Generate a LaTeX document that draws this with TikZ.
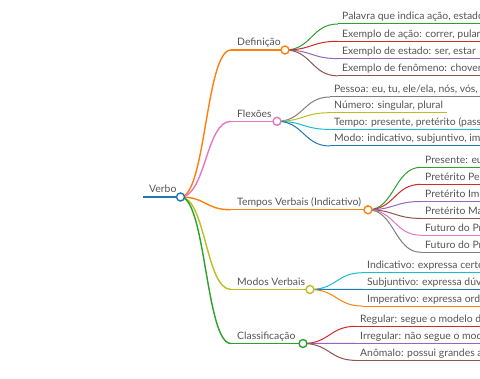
\documentclass[tikz,border=0pt]{standalone}
\usepackage{fontspec}
\setmainfont{Lato}[FakeStretch=1.02]
\usetikzlibrary{calc}
\definecolor{cBlue}{HTML}{1F77B4}
\definecolor{cOrange}{HTML}{FF7F0E}
\definecolor{cGreen}{HTML}{2CA02C}
\definecolor{cRed}{HTML}{D62728}
\definecolor{cPurple}{HTML}{9467BD}
\definecolor{cBrown}{HTML}{8C564B}
\definecolor{cPink}{HTML}{E377C2}
\definecolor{cGray}{HTML}{7F7F7F}
\definecolor{cOlive}{HTML}{BCBD22}
\definecolor{cCyan}{HTML}{17BECF}
\definecolor{txt}{HTML}{555555}
\newcommand\mmlink[4]{% width, color, from, to
  \path ($(#3)!0.5!(#4)$) coordinate (mmmid);
  \draw[line width=#1, #2] (#3) .. controls (mmmid |- #3) and (mmmid |- #4) .. (#4);}
\begin{document}
\begin{tikzpicture}[x=1pt,y=-1pt,
  lbl/.style={anchor=base west, inner sep=0pt, text=txt, font=\fontsize{10.2}{12}\selectfont},
  circ/.style={circle, draw, fill=white, line width=1.4pt, minimum size=8pt, inner sep=0pt},
  leafline/.style={line width=1pt},
  midline/.style={line width=1.4pt}]
\useasboundingbox (0,0) rectangle (480,379);
\clip (0,0) rectangle (480,379);
\fill[white] (0,0) rectangle (480,379);

% ---------- coordinates ----------
\coordinate (rootS) at (143,197);
\coordinate (rootC) at (180.5,197);
% level 1
\coordinate (defS) at (231,50);   \coordinate (defC) at (285,50);
\coordinate (flxS) at (231,121.3); \coordinate (flxC) at (277,121.3);
\coordinate (tmpS) at (231,209.8); \coordinate (tmpC) at (368,209.8);
\coordinate (modS) at (231,289.5); \coordinate (modC) at (310,289.5);
\coordinate (claS) at (231,343.5); \coordinate (claC) at (303,343.5);
% leaves of Definicao
\coordinate (d1) at (338,24);   \coordinate (d2) at (338,41.3);
\coordinate (d3) at (338,58.6); \coordinate (d4) at (338,75.9);
% leaves of Flexoes
\coordinate (f1) at (330,97);    \coordinate (f2) at (330,112.7);
\coordinate (f3) at (330,129.4); \coordinate (f4) at (330,146);
% leaves of Tempos
\coordinate (t1) at (421,167.3); \coordinate (t2) at (421,184.3);
\coordinate (t3) at (421,201.5); \coordinate (t4) at (421,218.4);
\coordinate (t5) at (421,235.2); \coordinate (t6) at (421,252.3);
% leaves of Modos
\coordinate (m1) at (363,272.7); \coordinate (m2) at (363,289.4);
\coordinate (m3) at (363,306.1);
% leaves of Classificacao
\coordinate (c1) at (356,326.3); \coordinate (c2) at (356,343.4);
\coordinate (c3) at (356,360.4);

% ---------- root ----------
\draw[line width=1.8pt, cBlue] (rootS) -- (rootC);
\node[lbl] (rootT) at ($(rootS)+(6,-4)$) {Verbo};

% ---------- level 1 links ----------
\mmlink{1.4pt}{cOrange}{rootC}{defS}
\mmlink{1.4pt}{cPink}{rootC}{flxS}
\mmlink{1.4pt}{cOrange}{rootC}{tmpS}
\mmlink{1.4pt}{cOlive}{rootC}{modS}
\mmlink{1.4pt}{cGreen}{rootC}{claS}
\draw[midline, cOrange] (defS) -- (defC);
\draw[midline, cPink] (flxS) -- (flxC);
\draw[midline, cOrange] (tmpS) -- (tmpC);
\draw[midline, cOlive] (modS) -- (modC);
\draw[midline, cGreen] (claS) -- (claC);
\node[lbl] (defT) at ($(defS)+(6,-4)$) {Definição};
\node[lbl] (flxT) at ($(flxS)+(6,-4)$) {Flexões};
\node[lbl] (tmpT) at ($(tmpS)+(6,-4)$) {Tempos Verbais (Indicativo)};
\node[lbl] (modT) at ($(modS)+(6,-4)$) {Modos Verbais};
\node[lbl] (claT) at ($(claS)+(6,-4)$) {Classificação};

% ---------- leaf links ----------
\mmlink{1pt}{cGreen}{defC}{d1}
\mmlink{1pt}{cRed}{defC}{d2}
\mmlink{1pt}{cPurple}{defC}{d3}
\mmlink{1pt}{cBrown}{defC}{d4}
\mmlink{1pt}{cGray}{flxC}{f1}
\mmlink{1pt}{cOlive}{flxC}{f2}
\mmlink{1pt}{cCyan}{flxC}{f3}
\mmlink{1pt}{cBlue}{flxC}{f4}
\mmlink{1pt}{cGreen}{tmpC}{t1}
\mmlink{1pt}{cRed}{tmpC}{t2}
\mmlink{1pt}{cPurple}{tmpC}{t3}
\mmlink{1pt}{cBrown}{tmpC}{t4}
\mmlink{1pt}{cPink}{tmpC}{t5}
\mmlink{1pt}{cGray}{tmpC}{t6}
\mmlink{1pt}{cCyan}{modC}{m1}
\mmlink{1pt}{cBlue}{modC}{m2}
\mmlink{1pt}{cOrange}{modC}{m3}
\mmlink{1pt}{cRed}{claC}{c1}
\mmlink{1pt}{cPurple}{claC}{c2}
\mmlink{1pt}{cBrown}{claC}{c3}

% ---------- leaf underlines ----------
\draw[leafline, cGreen] (d1) -- ++(150,0);
\draw[leafline, cRed] (d2) -- ++(150,0);
\draw[leafline, cPurple] (d3) -- ++(150,0);
\draw[leafline, cBrown] (d4) -- ++(150,0);
\draw[leafline, cGray] (f1) -- ++(160,0);
\draw[leafline, cOlive] (f2) -- (447,112.7);
\draw[leafline, cCyan] (f3) -- ++(160,0);
\draw[leafline, cBlue] (f4) -- ++(160,0);
\draw[leafline, cGreen] (t1) -- ++(70,0);
\draw[leafline, cRed] (t2) -- ++(70,0);
\draw[leafline, cPurple] (t3) -- ++(70,0);
\draw[leafline, cBrown] (t4) -- ++(70,0);
\draw[leafline, cPink] (t5) -- ++(70,0);
\draw[leafline, cGray] (t6) -- ++(70,0);
\draw[leafline, cCyan] (m1) -- ++(130,0);
\draw[leafline, cBlue] (m2) -- ++(130,0);
\draw[leafline, cOrange] (m3) -- ++(130,0);
\draw[leafline, cRed] (c1) -- ++(130,0);
\draw[leafline, cPurple] (c2) -- ++(130,0);
\draw[leafline, cBrown] (c3) -- ++(130,0);

% ---------- leaf texts ----------
\node[lbl] (d1T) at ($(d1)+(4,-4)$) {Palavra que indica ação, estado};
\node[lbl] (d2T) at ($(d2)+(4,-4)$) {Exemplo de ação: correr, pular};
\node[lbl] (d3T) at ($(d3)+(4,-4)$) {Exemplo de estado: ser, estar};
\node[lbl] (d4T) at ($(d4)+(4,-4)$) {Exemplo de fenômeno: chover,};
\node[lbl] (f1T) at ($(f1)+(4,-4)$) {Pessoa: eu, tu, ele/ela, nós, vós, e};
\node[lbl] (f2T) at ($(f2)+(4,-4)$) {Número: singular, plural};
\node[lbl] (f3T) at ($(f3)+(4,-4)$) {Tempo: presente, pretérito (pass};
\node[lbl] (f4T) at ($(f4)+(4,-4)$) {Modo: indicativo, subjuntivo, imp};
\node[lbl] (t1T) at ($(t1)+(4,-4)$) {Presente: eu};
\node[lbl] (t2T) at ($(t2)+(4,-4)$) {Pretérito Per};
\node[lbl] (t3T) at ($(t3)+(4,-4)$) {Pretérito Imp};
\node[lbl] (t4T) at ($(t4)+(4,-4)$) {Pretérito Ma};
\node[lbl] (t5T) at ($(t5)+(4,-4)$) {Futuro do Pr};
\node[lbl] (t6T) at ($(t6)+(4,-4)$) {Futuro do Pr};
\node[lbl] (m1T) at ($(m1)+(4,-4)$) {Indicativo: expressa certe};
\node[lbl] (m2T) at ($(m2)+(4,-4)$) {Subjuntivo: expressa dúv};
\node[lbl] (m3T) at ($(m3)+(4,-4)$) {Imperativo: expressa orde};
\node[lbl] (c1T) at ($(c1)+(4,-4)$) {Regular: segue o modelo d};
\node[lbl] (c2T) at ($(c2)+(4,-4)$) {Irregular: não segue o mod};
\node[lbl] (c3T) at ($(c3)+(4,-4)$) {Anômalo: possui grandes a};

% ---------- circles ----------
\node[circ, draw=cBlue] (root) at (rootC) {};
\node[circ, draw=cOrange] (def) at (defC) {};
\node[circ, draw=cPink] (flx) at (flxC) {};
\node[circ, draw=cOrange] (tmp) at (tmpC) {};
\node[circ, draw=cOlive] (mod) at (modC) {};
\node[circ, draw=cGreen] (cla) at (claC) {};
\end{tikzpicture}
\end{document}
